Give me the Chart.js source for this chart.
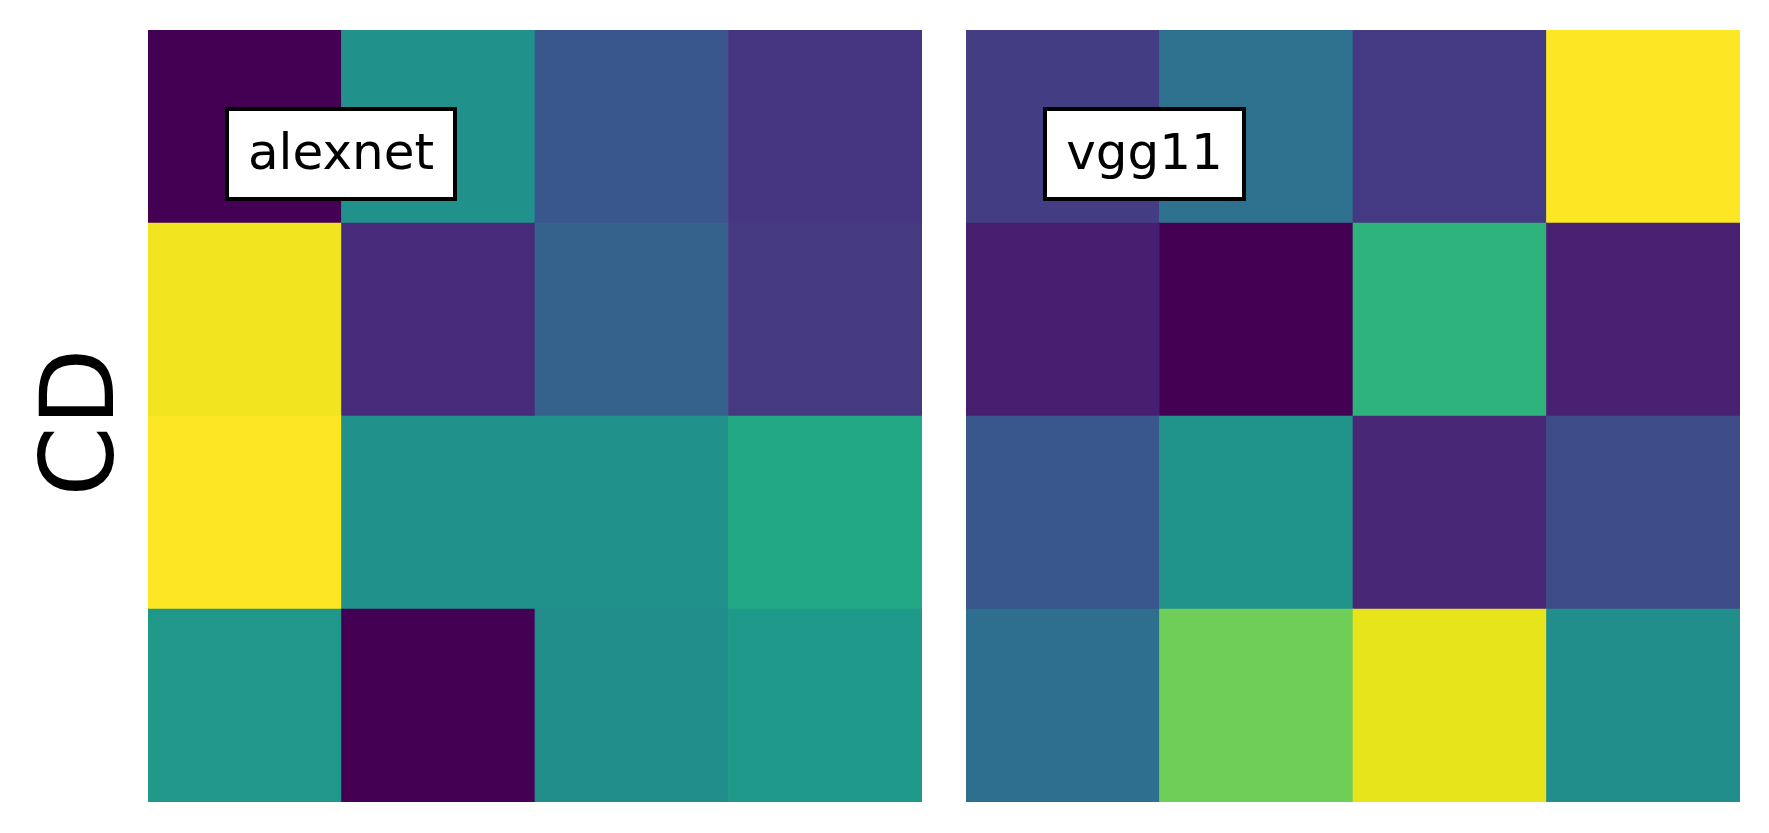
<!DOCTYPE html>
<html>
<head>
<meta charset="utf-8">
<script src="https://cdn.jsdelivr.net/npm/chart.js@4.4.1/dist/chart.umd.min.js"></script>
<style>
  html, body { margin: 0; padding: 0; background: #ffffff; }
  body { width: 1769px; height: 833px; position: relative; overflow: hidden; }
  canvas { position: absolute; top: 0; }
  #c1 { left: 0; }
  #c2 { left: 944px; }
</style>
</head>
<body>
<canvas id="c1" width="944" height="833"></canvas>
<canvas id="c2" width="825" height="833"></canvas>
<script>
// ---- data ----
const columns = ['c0', 'c1', 'c2', 'c3'];
const rowNames = ['r0', 'r1', 'r2', 'r3'];          // top to bottom
const panelTitles = ['alexnet', 'vgg11'];
const yLabel = 'CD';
const alexnetValues = [
  [0.00, 0.50, 0.27, 0.155],
  [0.98, 0.12, 0.31, 0.165],
  [1.00, 0.50, 0.50, 0.60],
  [0.53, 0.00, 0.49, 0.535]
];
const vgg11Values = [
  [0.18, 0.37, 0.17, 1.00],
  [0.085, 0.00, 0.645, 0.09],
  [0.27, 0.51, 0.11, 0.23],
  [0.36, 0.78, 0.965, 0.49]
];

// ---- viridis colormap ----
const viridisStops = ['#440154','#471365','#482475','#463480','#414487','#3b528b','#355f8d','#2f6c8e','#2a788e','#25848e','#21918c','#1e9c89','#22a884','#2fb47c','#44bf70','#5ec962','#7ad151','#9bd93c','#bddf26','#dfe318','#fde725'];
function hexToRgb(h) { return [parseInt(h.slice(1,3),16), parseInt(h.slice(3,5),16), parseInt(h.slice(5,7),16)]; }
function viridis(t) {
  t = Math.max(0, Math.min(1, t));
  const n = viridisStops.length - 1;
  const p = t * n;
  const i = Math.min(Math.floor(p), n - 1);
  const f = p - i;
  const a = hexToRgb(viridisStops[i]), b = hexToRgb(viridisStops[i + 1]);
  const c = a.map((v, k) => Math.round(v + (b[k] - v) * f));
  return 'rgb(' + c.join(',') + ')';
}

const FONT = "'DejaVu Sans', sans-serif";

const labelBoxPlugin = {
  id: 'labelBox',
  afterDatasetsDraw(chart, args, opts) {
    const ctx = chart.ctx;
    const a = chart.chartArea;
    ctx.save();
    // panel name in a framed box
    ctx.font = '50px ' + FONT;
    const tw = ctx.measureText(opts.text).width;
    const padX = 23;
    const bw = Math.round(tw + 2 * padX);
    const bh = 94;
    const bx = Math.round(a.left + 0.1 * (a.right - a.left));
    const by = Math.round(a.top + 0.1 * (a.bottom - a.top));
    const lw = 4;
    ctx.fillStyle = '#ffffff';
    ctx.fillRect(bx, by, bw, bh);
    ctx.lineWidth = lw;
    ctx.strokeStyle = '#000000';
    ctx.strokeRect(bx + lw / 2, by + lw / 2, bw - lw, bh - lw);
    ctx.fillStyle = '#000000';
    ctx.textAlign = 'center';
    ctx.textBaseline = 'alphabetic';
    ctx.fillText(opts.text, bx + bw / 2, by + 62);
    // rotated row label left of the first panel
    if (opts.yLabel) {
      ctx.font = '101px ' + FONT;
      ctx.textAlign = 'center';
      ctx.textBaseline = 'middle';
      ctx.translate(a.left - 61.5, (a.top + a.bottom) / 2 + 6.5);
      ctx.rotate(-Math.PI / 2);
      ctx.fillText(opts.yLabel, 0, 0);
    }
    ctx.restore();
  }
};

function makeHeatmap(canvasId, values, title, padding, rowLabel) {
  // stacked bars: first dataset = bottom row
  const datasets = [];
  for (let r = values.length - 1; r >= 0; r--) {
    datasets.push({
      label: rowNames[r],
      data: columns.map(() => 1),
      backgroundColor: values[r].map(v => viridis(v)),
      borderWidth: 0,
      barPercentage: 1.0,
      categoryPercentage: 1.0
    });
  }
  return new Chart(document.getElementById(canvasId), {
    type: 'bar',
    data: { labels: columns, datasets },
    plugins: [labelBoxPlugin],
    options: {
      responsive: false,
      animation: false,
      devicePixelRatio: 1,
      layout: { padding },
      plugins: {
        legend: { display: false },
        tooltip: { enabled: false },
        labelBox: { text: title, yLabel: rowLabel }
      },
      scales: {
        x: { display: false, stacked: true },
        y: { display: false, stacked: true, min: 0, max: values.length }
      }
    }
  });
}

makeHeatmap('c1', alexnetValues, panelTitles[0], { left: 148, right: 22, top: 30, bottom: 31 }, yLabel);
makeHeatmap('c2', vgg11Values, panelTitles[1], { left: 22, right: 29, top: 30, bottom: 31 }, '');
</script>
</body>
</html>
